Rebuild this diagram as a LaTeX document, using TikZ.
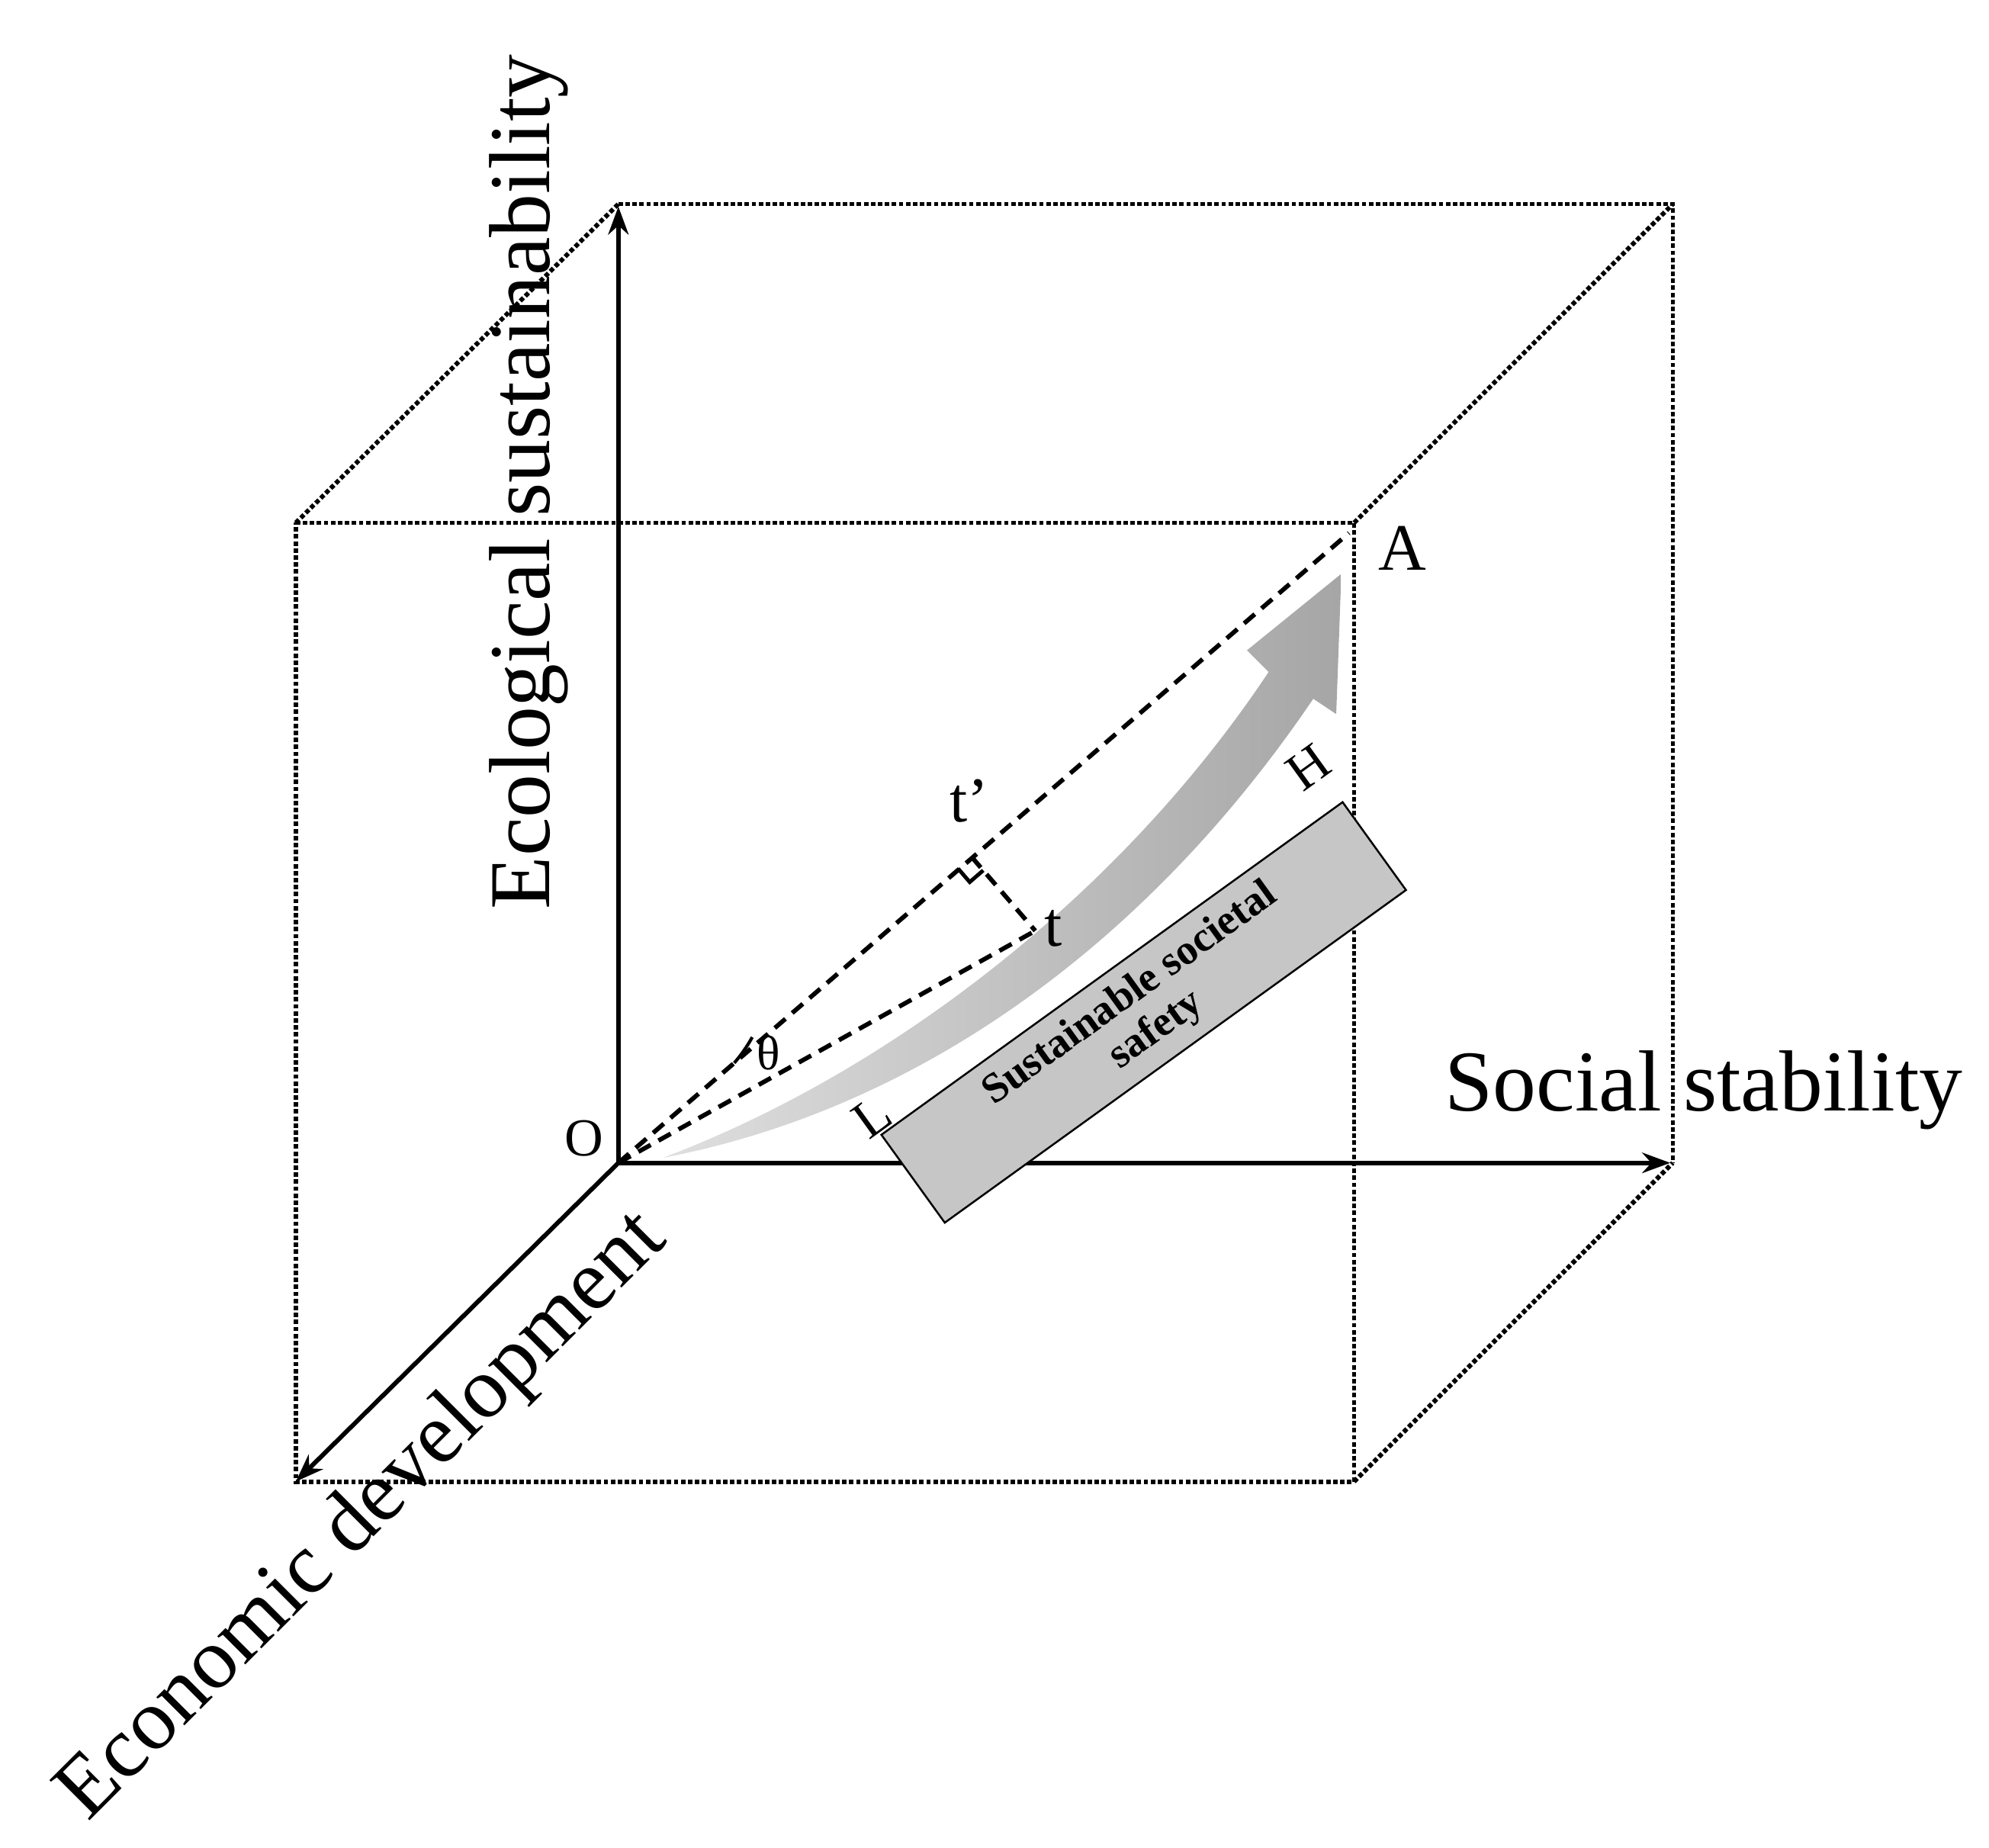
\documentclass[tikz,border=0pt]{standalone}
\usepackage{fontspec}
\setmainfont{Liberation Serif}
\usetikzlibrary{arrows.meta,calc}
\begin{document}
\begin{tikzpicture}[x=1pt,y=-1pt,
  axis/.style={line width=3.5pt,-{Stealth[length=22pt,width=16pt]}},
  dots/.style={line width=3.5pt,dotted},
  dashln/.style={line width=3.5pt,dash pattern=on 11pt off 7pt},
  lbl/.style={font=\fontsize{68}{70}\selectfont,inner sep=0pt}]
\useasboundingbox (0,0) rectangle (1560,1449);
\coordinate (O) at (485,912);
\coordinate (Ytop) at (485,162);
\coordinate (Xend) at (1310,912);
\coordinate (Zend) at (232,1162);
\coordinate (F1) at (232,410); \coordinate (F2) at (1062,410);
\coordinate (F3) at (1062,1162); \coordinate (F4) at (232,1162);
\coordinate (B1) at (485,160); \coordinate (B2) at (1312,160); \coordinate (B3) at (1312,912);
\coordinate (A) at (1058,418);
\coordinate (T) at (812,730);
\coordinate (Tp) at (762,672);
% cube
\draw[dots] (F1)--(F2)--(F3)--(F4)--cycle;
\draw[dots] (B1)--(B2)--(B3);
\draw[dots] (F1)--(B1) (F2)--(B2) (F3)--(B3);
% axes
\draw[axis] (O)--(Ytop);
\draw[axis] (O)--(Xend);
\draw[axis] (O)--(Zend);
% dashed
\draw[dashln] (O)--(A);
\draw[dashln] (O)--(T);
\draw[dashln] (Tp)--(T);
\draw[line width=3pt] ($(Tp)!14pt!(O)$) -- ($(Tp)!14pt!(O)+(Tp)!14pt!(T)-(Tp)$) -- ($(Tp)!14pt!(T)$);
\draw[line width=2.5pt] ($(O)!120pt!(A)$) arc[start angle=-40.8,end angle=-29,radius=120pt];
% gray arrow
\shade[left color=gray!25,right color=gray!70,draw=none]
 (520,908) .. controls (720,870) and (900,740) .. (1030,548)
 -- (1048,560) -- (1052,450) -- (978,510) -- (995,527)
 .. controls (880,700) and (700,840) .. (520,908) -- cycle;
% box
\node[draw,line width=1.5pt,fill=gray!45,minimum width=446pt,minimum height=85pt,
 rotate=35.8,inner sep=2pt,align=center,font=\fontsize{33}{35}\selectfont\bfseries]
 (box) at (897,794) {Sustainable societal\\safety};
% labels
\node[lbl,rotate=90] (ylab) at (415,378) {Ecological sustainability};
\node[lbl,anchor=west] (xlab) at (1133,855) {Social stability};
\node[lbl,rotate=45] (zlab) at (285,1190) {Economic development};
\node[font=\fontsize{42}{44}\selectfont] (olab) at (458,893) {O};
\node[font=\fontsize{52}{54}\selectfont] (alab) at (1100,430) {A};
\node[font=\fontsize{50}{52}\selectfont] (tlab) at (826,728) {t};
\node[font=\fontsize{50}{52}\selectfont] (tplab) at (760,628) {t’};
\node[font=\fontsize{38}{40}\selectfont] (th) at (603,826) {θ};
\node[font=\fontsize{42}{44}\selectfont,rotate=35.8] (L) at (684,876) {L};
\node[font=\fontsize{42}{44}\selectfont,rotate=35.8] (H) at (1026,602) {H};
\end{tikzpicture}
\end{document}
